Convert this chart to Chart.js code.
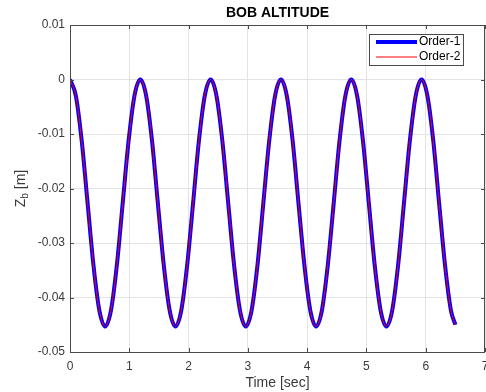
<!DOCTYPE html>
<html>
<head>
<meta charset="utf-8">
<title>BOB ALTITUDE</title>
<script src="https://cdn.jsdelivr.net/npm/chart.js@4.4.1/dist/chart.umd.min.js"></script>
<style>
  html, body { margin: 0; padding: 0; background: #ffffff; }
  #gr { display: block; }
</style>
<script>
// values (time in sec, Z_b in m)
const timeSec = [
  0, 0.099, 0.198, 0.297, 0.395, 0.494, 0.593, 0.692, 0.791, 0.889, 0.988, 1.087,
  1.186, 1.285, 1.384, 1.482, 1.581, 1.680, 1.779, 1.878, 1.977, 2.076, 2.174, 2.273,
  2.372, 2.471, 2.570, 2.669, 2.767, 2.866, 2.965, 3.064, 3.163, 3.261, 3.360, 3.459,
  3.558, 3.657, 3.756, 3.854, 3.953, 4.052, 4.151, 4.250, 4.349, 4.448, 4.546, 4.645,
  4.744, 4.843, 4.942, 5.041, 5.139, 5.238, 5.337, 5.436, 5.535, 5.633, 5.732, 5.831,
  5.930, 6.029, 6.128, 6.226, 6.325, 6.424, 6.500
];
const zOrder1 = [
  0, -0.0030, -0.0113, -0.0227, -0.0340, -0.0423, -0.0453, -0.0423, -0.0340, -0.0227, -0.0113, -0.0030,
  0, -0.0030, -0.0113, -0.0227, -0.0340, -0.0423, -0.0453, -0.0423, -0.0340, -0.0227, -0.0113, -0.0030,
  0, -0.0030, -0.0113, -0.0227, -0.0340, -0.0423, -0.0453, -0.0423, -0.0340, -0.0227, -0.0113, -0.0030,
  0, -0.0030, -0.0113, -0.0227, -0.0340, -0.0423, -0.0453, -0.0423, -0.0340, -0.0227, -0.0113, -0.0030,
  0, -0.0030, -0.0113, -0.0227, -0.0340, -0.0423, -0.0453, -0.0423, -0.0340, -0.0227, -0.0113, -0.0030,
  0, -0.0030, -0.0113, -0.0227, -0.0340, -0.0423, -0.0450
];
const zOrder2 = [
  0, -0.0030, -0.0113, -0.0227, -0.0340, -0.0423, -0.0453, -0.0423, -0.0340, -0.0227, -0.0113, -0.0030,
  0, -0.0030, -0.0113, -0.0227, -0.0340, -0.0423, -0.0453, -0.0423, -0.0340, -0.0227, -0.0113, -0.0030,
  0, -0.0030, -0.0113, -0.0227, -0.0340, -0.0423, -0.0453, -0.0423, -0.0340, -0.0227, -0.0113, -0.0030,
  0, -0.0030, -0.0113, -0.0227, -0.0340, -0.0423, -0.0453, -0.0423, -0.0340, -0.0227, -0.0113, -0.0030,
  0, -0.0030, -0.0113, -0.0227, -0.0340, -0.0423, -0.0453, -0.0423, -0.0340, -0.0227, -0.0113, -0.0030,
  0, -0.0030, -0.0113, -0.0227, -0.0340, -0.0423, -0.0450
];
const seriesNames = ["Order-1", "Order-2"];
const xTicks = [0, 1, 2, 3, 4, 5, 6, 7];
const yTicks = [0.01, 0, -0.01, -0.02, -0.03, -0.04, -0.05];
const titleText = "BOB ALTITUDE";
const xLabel = "Time [sec]";

const FONT = "'Liberation Sans', Arial, Helvetica, sans-serif";
const AXIS_COLOR = "#4a4a4a";
const TEXT_COLOR = "#3a3a3a";

function toPoints(xs, ys) {
    return xs.map((x, i) => ({ x: x, y: ys[i] }));
}

function fmtY(v) {
    if (Math.abs(v) < 1e-9) { return "0"; }
    return v.toFixed(2);
}

// box, inward ticks, titles and legend in the matlab way
const matlabLook = {
    id: "matlabLook",
    afterDatasetsDraw(chart) {
        const ctx = chart.ctx;
        const a = chart.chartArea;
        const xs = chart.scales.x, ys = chart.scales.y;
        ctx.save();
        ctx.strokeStyle = AXIS_COLOR;
        ctx.lineWidth = 1;
        ctx.beginPath();
        ctx.rect(Math.round(a.left) + 0.5, Math.round(a.top) + 0.5,
                 Math.round(a.right - a.left) - 1, Math.round(a.bottom - a.top));
        ctx.stroke();

        //inward ticks
        const tl = 4;
        ctx.beginPath();
        xTicks.forEach((t) => {
            const px = Math.round(xs.getPixelForValue(t)) + 0.5;
            ctx.moveTo(px, a.bottom); ctx.lineTo(px, a.bottom - tl);
            ctx.moveTo(px, a.top); ctx.lineTo(px, a.top + tl);
        });
        yTicks.forEach((t) => {
            const py = Math.round(ys.getPixelForValue(t)) + 0.5;
            ctx.moveTo(a.left, py); ctx.lineTo(a.left + tl, py);
            ctx.moveTo(a.right, py); ctx.lineTo(a.right - tl, py);
        });
        ctx.stroke();

        //titles
        const cx = (a.left + a.right) / 2;
        ctx.fillStyle = "#000000";
        ctx.font = "bold 14px " + FONT;
        ctx.textAlign = "center";
        ctx.textBaseline = "alphabetic";
        ctx.fillText(titleText, cx, 17);

        ctx.fillStyle = TEXT_COLOR;
        ctx.font = "14px " + FONT;
        ctx.fillText(xLabel, cx, 387);

        //y label with subscript b
        const cy = (a.top + a.bottom) / 2;
        ctx.translate(25, cy);
        ctx.rotate(-Math.PI / 2);
        ctx.textAlign = "left";
        ctx.font = "14px " + FONT;
        const wZ = ctx.measureText("Z").width;
        const wRest = ctx.measureText(" [m]").width;
        ctx.font = "10px " + FONT;
        const wB = ctx.measureText("b").width;
        let x0 = -(wZ + wB + wRest) / 2;
        ctx.font = "14px " + FONT;
        ctx.fillText("Z", x0, 0);
        ctx.font = "10px " + FONT;
        ctx.fillText("b", x0 + wZ, 3);
        ctx.font = "14px " + FONT;
        ctx.fillText(" [m]", x0 + wZ + wB, 0);
        ctx.restore();

        //legend
        ctx.save();
        const bx = 369, by = 34, bw = 94, bh = 31;
        ctx.fillStyle = "#ffffff";
        ctx.fillRect(bx, by, bw, bh);
        ctx.strokeStyle = AXIS_COLOR;
        ctx.lineWidth = 1;
        ctx.strokeRect(bx + 0.5, by + 0.5, bw, bh);
        ctx.font = "12px " + FONT;
        ctx.textBaseline = "middle";
        ctx.textAlign = "left";
        chart.data.datasets.forEach((ds, i) => {
            const ly = by + 8 + i * 15;
            ctx.strokeStyle = ds.borderColor;
            ctx.lineWidth = ds.borderWidth;
            ctx.beginPath();
            ctx.moveTo(bx + 7, ly); ctx.lineTo(bx + 48, ly);
            ctx.stroke();
            ctx.fillStyle = "#000000";
            ctx.fillText(ds.label, bx + 50, ly);
        });
        ctx.restore();
    }
};

window.onload = function () {
    const cv = document.getElementById("gr").getContext("2d");
    new Chart(cv, {
        type: "line",
        data: {
            datasets: [
                {
                    label: seriesNames[0],
                    data: toPoints(timeSec, zOrder1),
                    borderColor: "#0000ff",
                    borderWidth: 4,
                    pointRadius: 0,
                    fill: false,
                    cubicInterpolationMode: "monotone",
                    order: 2
                },
                {
                    label: seriesNames[1],
                    data: toPoints(timeSec, zOrder2),
                    borderColor: "#ff0000",
                    borderWidth: 1,
                    pointRadius: 0,
                    fill: false,
                    cubicInterpolationMode: "monotone",
                    order: 1
                }
            ]
        },
        options: {
            responsive: false,
            animation: false,
            devicePixelRatio: 1,
            layout: { padding: { top: 25, right: 1, left: 0, bottom: 0 } },
            plugins: {
                legend: { display: false },
                title: { display: false },
                tooltip: { enabled: false }
            },
            scales: {
                x: {
                    type: "linear",
                    min: 0, max: 7,
                    afterFit: (s) => { s.height = 40; s.paddingLeft = 0; s.paddingRight = 0; },
                    afterBuildTicks: (s) => { s.ticks = xTicks.map((v) => ({ value: v })); },
                    ticks: {
                        color: TEXT_COLOR,
                        font: { family: FONT, size: 12 },
                        padding: 7,
                        maxRotation: 0,
                        callback: (v) => String(v)
                    },
                    grid: { color: "#e3e3e3", drawTicks: false },
                    border: { display: false }
                },
                y: {
                    type: "linear",
                    min: -0.05, max: 0.01,
                    afterFit: (s) => { s.width = 70; s.paddingTop = 0; s.paddingBottom = 0; },
                    afterBuildTicks: (s) => { s.ticks = yTicks.map((v) => ({ value: v })); },
                    ticks: {
                        color: TEXT_COLOR,
                        font: { family: FONT, size: 12 },
                        padding: 5,
                        callback: (v) => fmtY(v)
                    },
                    grid: { color: "#e3e3e3", drawTicks: false },
                    border: { display: false }
                }
            }
        },
        plugins: [matlabLook]
    });
};
</script>
</head>
<body>
<canvas id="gr" width="486" height="392"></canvas>
</body>
</html>
